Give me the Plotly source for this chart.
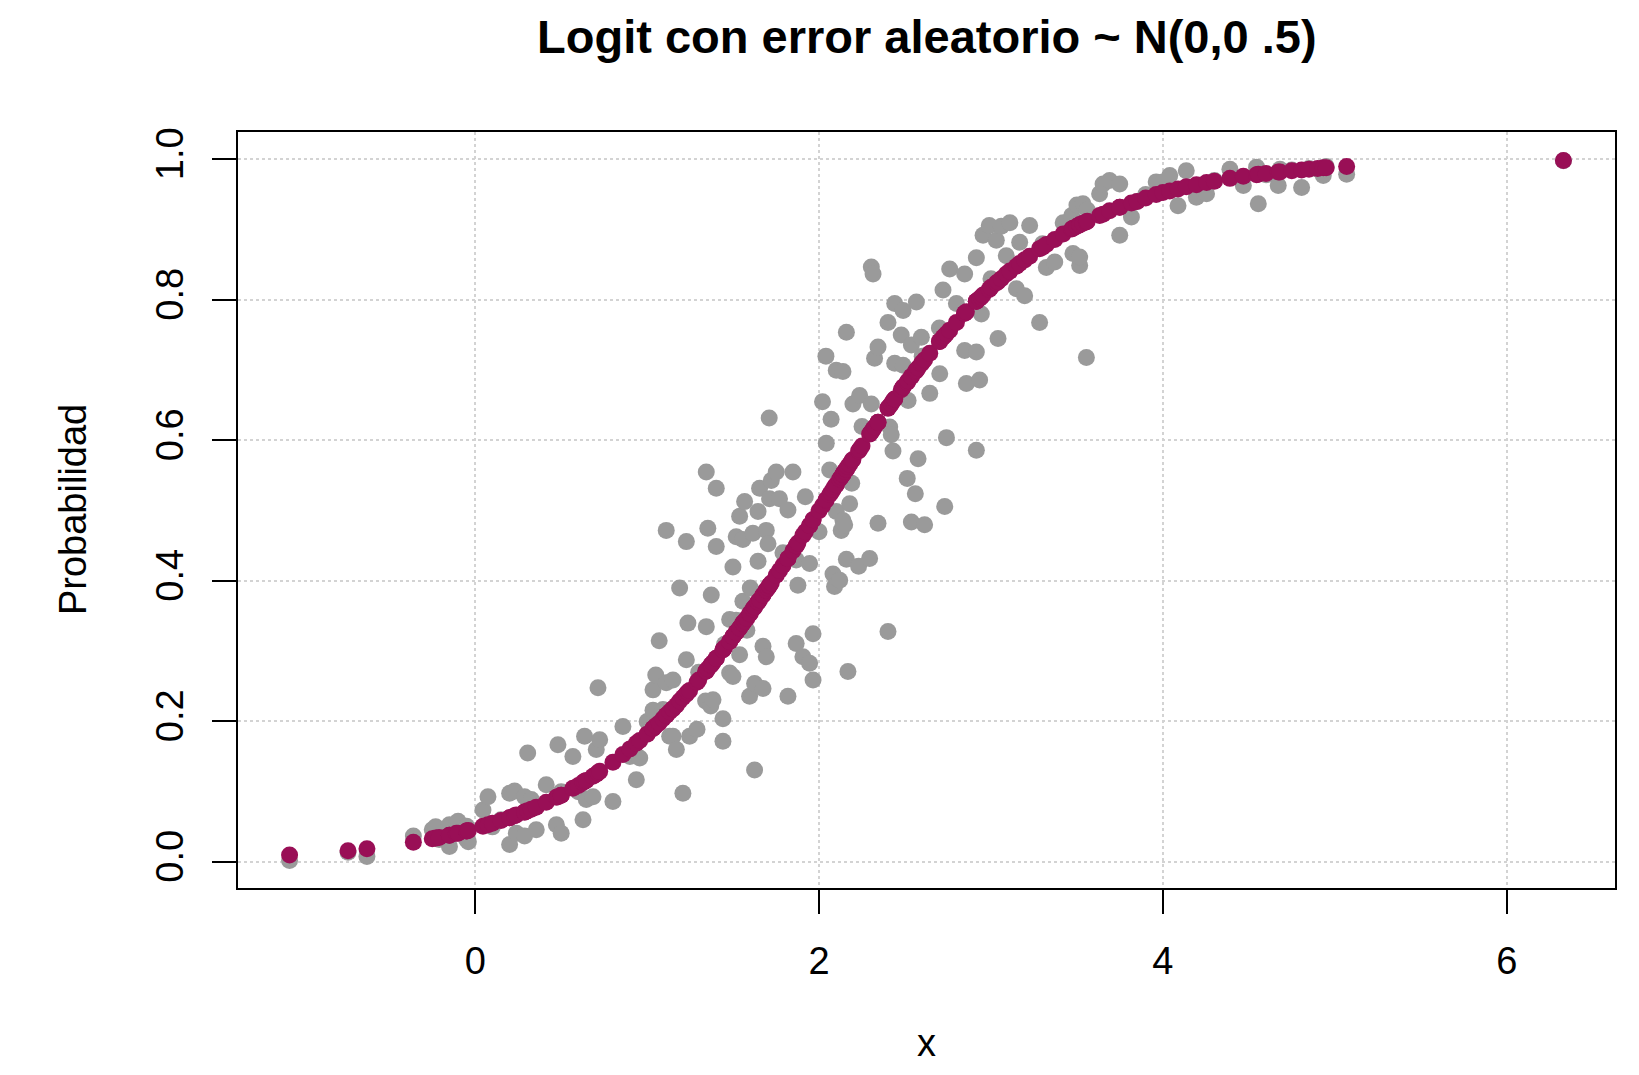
import plotly.graph_objects as go

# observations: x, observed probability (gray), fitted logit probability (maroon)
x_obs = [-1.08, -0.74, -0.63, -0.36, -0.25, -0.23, -0.21, -0.15, -0.15, -0.11, -0.10, -0.05, -0.05, -0.04,
         0.045, 0.074, 0.10, 0.15, 0.20, 0.20, 0.229, 0.239, 0.287, 0.287, 0.305, 0.326, 0.355, 0.413,
         0.472, 0.481, 0.50, 0.50, 0.568, 0.60, 0.627, 0.636, 0.646, 0.685, 0.704, 0.714, 0.724, 0.801,
         0.859, 0.90, 0.937, 0.957, 1.00, 1.034, 1.034, 1.05, 1.07, 1.092, 1.111, 1.111, 1.131, 1.15,
         1.15, 1.17, 1.189, 1.208, 1.228, 1.228, 1.237, 1.247, 1.29, 1.30, 1.34, 1.344, 1.344, 1.353,
         1.37, 1.373, 1.383, 1.402, 1.402, 1.441, 1.441, 1.45, 1.48, 1.48, 1.499, 1.499, 1.518, 1.518,
         1.538, 1.538, 1.557, 1.557, 1.567, 1.58, 1.596, 1.60, 1.615, 1.625, 1.625, 1.645, 1.645, 1.654,
         1.674, 1.674, 1.693, 1.693, 1.703, 1.71, 1.712, 1.722, 1.751, 1.77, 1.79, 1.819, 1.819, 1.848,
         1.867, 1.867, 1.877, 1.906, 1.92, 1.945, 1.945, 1.965, 1.965, 2.00, 2.02, 2.04, 2.042, 2.062,
         2.07, 2.081, 2.09, 2.10, 2.10, 2.12, 2.129, 2.139, 2.139, 2.149, 2.159, 2.159, 2.168, 2.178,
         2.19, 2.197, 2.23, 2.236, 2.25, 2.294, 2.304, 2.314, 2.304, 2.323, 2.343, 2.343, 2.401, 2.401,
         2.411, 2.42, 2.43, 2.44, 2.44, 2.478, 2.489, 2.489, 2.513, 2.518, 2.537, 2.537, 2.56, 2.566,
         2.576, 2.595, 2.60, 2.614, 2.644, 2.70, 2.702, 2.721, 2.731, 2.741, 2.76, 2.799, 2.847, 2.847,
         2.857, 2.915, 2.915, 2.915, 2.934, 2.944, 2.954, 2.99, 3.00, 3.031, 3.041, 3.06, 3.089, 3.11,
         3.148, 3.167, 3.196, 3.225, 3.283, 3.30, 3.322, 3.371, 3.42, 3.47, 3.477, 3.50, 3.516, 3.516,
         3.535, 3.555, 3.56, 3.632, 3.652, 3.69, 3.749, 3.749, 3.817, 3.85, 3.90, 3.961, 4.00, 4.04,
         4.088, 4.136, 4.195, 4.254, 4.30, 4.39, 4.468, 4.545, 4.555, 4.60, 4.671, 4.681, 4.75, 4.807,
         4.85, 4.90, 4.933, 4.95, 5.069, 6.33]

y_obs = [0.002, 0.014, 0.008, 0.037, 0.046, 0.050, 0.032, 0.053, 0.022, 0.055, 0.058, 0.051, 0.032, 0.029,
         0.074, 0.093, 0.050, 0.060, 0.098, 0.025, 0.101, 0.041, 0.093, 0.037, 0.155, 0.089, 0.046, 0.110,
         0.053, 0.167, 0.041, 0.100, 0.150, 0.100, 0.060, 0.179, 0.089, 0.093, 0.160, 0.248, 0.174, 0.086,
         0.193, 0.150, 0.117, 0.148, 0.200, 0.245, 0.216, 0.266, 0.315, 0.217, 0.255, 0.472, 0.179, 0.259,
         0.179, 0.160, 0.390, 0.098, 0.456, 0.288, 0.340, 0.179, 0.189, 0.270, 0.229, 0.555, 0.335, 0.475,
         0.222, 0.380, 0.231, 0.532, 0.449, 0.204, 0.172, 0.310, 0.269, 0.345, 0.420, 0.264, 0.463, 0.344,
         0.492, 0.295, 0.459, 0.371, 0.513, 0.330, 0.236, 0.390, 0.468, 0.254, 0.131, 0.499, 0.428, 0.532,
         0.307, 0.247, 0.472, 0.292, 0.453, 0.632, 0.517, 0.543, 0.555, 0.517, 0.440, 0.501, 0.236, 0.555,
         0.430, 0.311, 0.394, 0.292, 0.520, 0.425, 0.283, 0.325, 0.259, 0.470, 0.655, 0.720, 0.596, 0.558,
         0.630, 0.410, 0.392, 0.499, 0.700, 0.401, 0.472, 0.486, 0.698, 0.480, 0.431, 0.754, 0.271, 0.510,
         0.539, 0.652, 0.421, 0.664, 0.620, 0.432, 0.847, 0.837, 0.652, 0.717, 0.733, 0.482, 0.328, 0.768,
         0.619, 0.608, 0.585, 0.795, 0.710, 0.750, 0.785, 0.707, 0.546, 0.657, 0.736, 0.484, 0.524, 0.797,
         0.574, 0.747, 0.720, 0.480, 0.667, 0.760, 0.695, 0.814, 0.506, 0.604, 0.844, 0.795, 0.837, 0.728,
         0.681, 0.860, 0.726, 0.586, 0.686, 0.780, 0.892, 0.906, 0.830, 0.885, 0.745, 0.905, 0.863, 0.910,
         0.816, 0.882, 0.806, 0.906, 0.768, 0.880, 0.846, 0.854, 0.910, 0.920, 0.866, 0.935, 0.849, 0.861,
         0.937, 0.718, 0.928, 0.951, 0.965, 0.970, 0.965, 0.892, 0.918, 0.940, 0.950, 0.968, 0.968, 0.977,
         0.934, 0.984, 0.946, 0.951, 0.970, 0.986, 0.963, 0.989, 0.937, 0.978, 0.963, 0.986, 0.985, 0.960,
         0.987, 0.986, 0.977, 0.990, 0.979, 0.998]

p_fit = [0.010, 0.016, 0.019, 0.028, 0.033, 0.034, 0.035, 0.038, 0.038, 0.041, 0.041, 0.044, 0.044, 0.045,
         0.051, 0.053, 0.055, 0.059, 0.063, 0.063, 0.066, 0.067, 0.071, 0.071, 0.073, 0.075, 0.078, 0.085,
         0.092, 0.093, 0.095, 0.095, 0.105, 0.109, 0.113, 0.115, 0.116, 0.122, 0.125, 0.127, 0.129, 0.142,
         0.153, 0.161, 0.169, 0.173, 0.182, 0.190, 0.190, 0.194, 0.198, 0.204, 0.209, 0.209, 0.214, 0.218,
         0.218, 0.223, 0.229, 0.234, 0.239, 0.239, 0.242, 0.244, 0.256, 0.259, 0.271, 0.272, 0.272, 0.275,
         0.280, 0.281, 0.284, 0.290, 0.290, 0.302, 0.302, 0.305, 0.314, 0.314, 0.321, 0.321, 0.327, 0.327,
         0.333, 0.333, 0.340, 0.340, 0.343, 0.347, 0.353, 0.354, 0.360, 0.363, 0.363, 0.370, 0.370, 0.373,
         0.380, 0.380, 0.387, 0.387, 0.390, 0.393, 0.394, 0.397, 0.408, 0.415, 0.422, 0.432, 0.432, 0.443,
         0.450, 0.450, 0.454, 0.465, 0.470, 0.479, 0.479, 0.487, 0.487, 0.500, 0.507, 0.515, 0.516, 0.523,
         0.526, 0.530, 0.534, 0.537, 0.537, 0.545, 0.548, 0.552, 0.552, 0.556, 0.559, 0.559, 0.563, 0.566,
         0.571, 0.573, 0.585, 0.587, 0.592, 0.609, 0.612, 0.616, 0.612, 0.619, 0.626, 0.626, 0.646, 0.646,
         0.649, 0.652, 0.656, 0.659, 0.659, 0.672, 0.676, 0.676, 0.683, 0.685, 0.691, 0.691, 0.698, 0.700,
         0.703, 0.709, 0.711, 0.715, 0.724, 0.741, 0.741, 0.747, 0.749, 0.752, 0.757, 0.768, 0.781, 0.781,
         0.783, 0.798, 0.798, 0.798, 0.802, 0.804, 0.807, 0.815, 0.818, 0.824, 0.826, 0.830, 0.837, 0.841,
         0.848, 0.852, 0.857, 0.862, 0.873, 0.875, 0.879, 0.886, 0.894, 0.901, 0.902, 0.905, 0.907, 0.907,
         0.909, 0.911, 0.912, 0.920, 0.922, 0.927, 0.932, 0.932, 0.938, 0.940, 0.945, 0.950, 0.953, 0.955,
         0.958, 0.961, 0.964, 0.967, 0.969, 0.973, 0.976, 0.978, 0.979, 0.980, 0.982, 0.982, 0.984, 0.985,
         0.986, 0.987, 0.988, 0.988, 0.990, 0.9985]

x_ticks = [0, 2, 4, 6]
y_ticks = [0.0, 0.2, 0.4, 0.6, 0.8, 1.0]
y_tick_labels = ["0.0", "0.2", "0.4", "0.6", "0.8", "1.0"]

GRAY = "#9a9a9a"
MAROON = "#990f56"
FONT = "Liberation Sans, Arial, sans-serif"

fig = go.Figure()
fig.add_trace(go.Scatter(x=x_obs, y=y_obs, mode="markers",
                         marker=dict(color=GRAY, size=17, line=dict(width=0)),
                         showlegend=False, hoverinfo="x+y"))
fig.add_trace(go.Scatter(x=x_obs, y=p_fit, mode="markers",
                         marker=dict(color=MAROON, size=17, line=dict(width=0)),
                         showlegend=False, hoverinfo="x+y"))

axis_common = dict(
    showgrid=True, gridcolor="#d3d3d3", griddash="dot", gridwidth=2,
    zeroline=False, showline=True, linecolor="black", linewidth=2, mirror=True,
    ticks="outside", ticklen=24, tickwidth=2, tickcolor="black",
    tickfont=dict(family=FONT, size=38, color="black"),
)

fig.update_xaxes(range=[-1.38, 6.63], tickvals=x_ticks, ticktext=[str(v) for v in x_ticks],
                 ticklabelstandoff=14, **axis_common)
fig.update_yaxes(range=[-0.037, 1.039], tickvals=y_ticks, ticktext=y_tick_labels,
                 tickangle=-90, ticklabelstandoff=14, **axis_common)

# the page body has an 8 px margin, so the figure is drawn 16 px smaller
fig.update_layout(
    width=1623, height=1059,
    margin=dict(l=230, r=16, t=124, b=179),
    paper_bgcolor="white", plot_bgcolor="white",
    annotations=[
        dict(text="<b>Logit con error aleatorio ~ N(0,0 .5)</b>", x=0.5, y=1.1265,
             xref="paper", yref="paper", xanchor="center", yanchor="middle", showarrow=False,
             font=dict(family=FONT, size=47, color="black")),
        dict(text="x", x=0.5, y=-0.2355, xref="paper", yref="paper",
             xanchor="center", yanchor="bottom", showarrow=False,
             font=dict(family=FONT, size=38, color="black")),
        dict(text="Probabilidad", x=-0.1198, y=0.5, xref="paper", yref="paper",
             xanchor="center", yanchor="middle", textangle=-90, showarrow=False,
             font=dict(family=FONT, size=38, color="black")),
    ],
)

fig.write_html("out.html")
